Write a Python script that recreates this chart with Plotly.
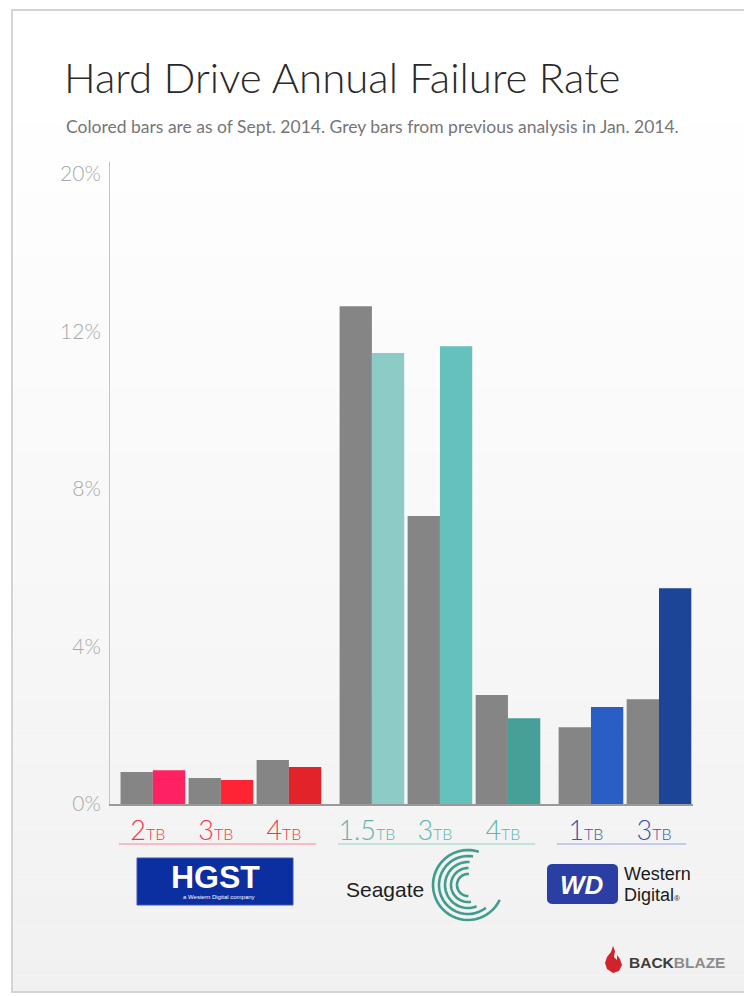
import math
import plotly.graph_objects as go

# ---------------- data ----------------
brands = ["HGST", "HGST", "HGST", "Seagate", "Seagate", "Seagate", "WD", "WD"]
capacities = ["2", "3", "4", "1.5", "3", "4", "1", "3"]
jan_2014 = [0.81, 0.66, 1.12, 12.64, 7.31, 2.77, 1.95, 2.66]   # grey bars
sep_2014 = [0.86, 0.61, 0.94, 11.45, 11.62, 2.18, 2.46, 5.48]  # coloured bars
y_tick_vals = [0, 4, 8, 12, 16]
y_tick_text = ["0%", "4%", "8%", "12%", "20%"]

# ---------------- styles ----------------
GREY = "#858585"
bar_colors = ["#ff2262", "#ff2434", "#e3232a",
              "#8dcbc6", "#64c1bc", "#47a097",
              "#2a5ec4", "#1d4597"]
brand_text = {"HGST": "#f2354c", "Seagate": "#5db4ab", "WD": "#3b56a6"}
brand_line = {"HGST": "#f7a9b2", "Seagate": "#b3dcd7", "WD": "#b4bde6"}
BRAND_GAP = 0.22

brand_order = []
for b in brands:
    if b not in brand_order:
        brand_order.append(b)
xpos = [i + BRAND_GAP * brand_order.index(b) for i, b in enumerate(brands)]

W, H = 744, 996
L, R, T, B = 110, 693, 162, 804


def px(x):
    return (x - L) / (R - L)


def py(y):
    return (B - y) / (B - T)


fig = go.Figure()
fig.add_trace(go.Bar(x=xpos, y=jan_2014, marker=dict(color=GREY, line=dict(width=0)),
                     name="Jan 2014", hoverinfo="skip"))
fig.add_trace(go.Bar(x=xpos, y=sep_2014, marker=dict(color=bar_colors, line=dict(width=0)),
                     name="Sept 2014", hoverinfo="skip"))

shapes = []
# background gradient bands
n = 60
top_y, bot_y = 11, 992
for k in range(n):
    y0 = top_y + (bot_y - top_y) * k / n
    y1 = top_y + (bot_y - top_y) * (k + 1) / n
    t = max(0.0, ((y0 + y1) / 2 - 100) / (bot_y - 100))
    v = int(round(255 - t * 14))
    shapes.append(dict(type="rect", xref="paper", yref="paper", layer="below",
                       x0=px(13), x1=px(760), y0=py(y1), y1=py(y0),
                       fillcolor=f"rgb({v},{v},{v})", line=dict(width=0)))
# card frame
shapes.append(dict(type="rect", xref="paper", yref="paper", layer="below",
                   x0=px(12), x1=px(770), y0=py(992), y1=py(10),
                   fillcolor="rgba(0,0,0,0)", line=dict(color="#d4d4d4", width=2)))

# brand underlines
for b in brand_order:
    xs = [x for x, bb in zip(xpos, brands) if bb == b]
    shapes.append(dict(type="line", xref="x", yref="paper",
                       x0=min(xs) - 0.5, x1=max(xs) + 0.4, y0=py(844), y1=py(844),
                       line=dict(color=brand_line[b], width=1.5)))

# HGST logo box
shapes.append(dict(type="rect", xref="paper", yref="paper",
                   x0=px(137), x1=px(293), y0=py(905), y1=py(858),
                   fillcolor="#0b2ea0", line=dict(color="#3a55b5", width=1)))


def rounded_rect(x0, y0, x1, y1, r):
    pts = []
    corners = [(x1 - r, y0 + r, 90, 0), (x1 - r, y1 - r, 0, -90),
               (x0 + r, y1 - r, -90, -180), (x0 + r, y0 + r, 180, 90)]
    for cx_, cy_, a0, a1 in corners:
        for s in range(7):
            a = math.radians(a0 + (a1 - a0) * s / 6)
            pts.append((cx_ + r * math.cos(a), cy_ - r * math.sin(a)))
    return "M " + " L ".join(f"{px(x):.5f},{py(y):.5f}" for x, y in pts) + " Z"


# WD logo box (rounded)
shapes.append(dict(type="path", xref="paper", yref="paper",
                   path=rounded_rect(547, 864, 618, 904, 5),
                   fillcolor="#2b3ea3", line=dict(width=0)))

# Seagate arcs
cx, cy = 468, 885
arcs = [(35, 72, 335), (29, 80, 308), (23, 86, 292), (17, 88, 280), (11, 85, 272)]
for r, a0, a1 in arcs:
    pts = []
    steps = 40
    for s in range(steps + 1):
        a = math.radians(a0 + (a1 - a0) * s / steps)
        pts.append((cx + r * math.cos(a), cy - r * math.sin(a)))
    path = "M " + " L ".join(f"{px(x):.5f},{py(y):.5f}" for x, y in pts)
    shapes.append(dict(type="path", xref="paper", yref="paper", path=path,
                       line=dict(color="#3f9c8e", width=2.6)))

# Backblaze flame
flame = [(613, 946), (611, 952), (607, 957), (605, 963), (607, 969), (613, 973),
         (619, 971), (622, 965), (620, 959), (617, 955), (617, 960), (614, 957),
         (615, 951)]
shapes.append(dict(type="path", xref="paper", yref="paper",
                   path="M " + " L ".join(f"{px(x):.5f},{py(y):.5f}" for x, y in flame) + " Z",
                   fillcolor="#d2232a", line=dict(width=0)))

annotations = []


def ann(text, x, y, size, color, family="Lato", xanchor="left", weight=None, yanchor="middle"):
    f = dict(size=size, color=color, family=family)
    if weight is not None:
        f["weight"] = weight
    annotations.append(dict(text=text, x=px(x), y=py(y), xref="paper", yref="paper",
                            xanchor=xanchor, yanchor=yanchor, showarrow=False, font=f))


ann("Hard Drive Annual Failure Rate", 62, 77, 42, "#2a2a2a", weight=300)
ann("Colored bars are as of Sept. 2014. Grey bars from previous analysis in Jan. 2014.",
    64, 126, 17.5, "#767676")
ann("<b>HGST</b>", 215, 877, 32, "#ffffff", family="Liberation Sans", xanchor="center")
ann("a Western Digital company", 219, 897, 6, "#ffffff", family="Liberation Sans", xanchor="center")
ann("Seagate", 344, 890, 21, "#1e1e1e", family="Liberation Sans")
ann("<b><i>WD</i></b>", 582, 885, 26, "#ffffff", family="Liberation Sans", xanchor="center")
ann("Western", 622, 874, 18, "#1a1a1a", family="Liberation Sans")
ann("Digital<span style='font-size:8px'>®</span>", 622, 895, 18, "#1a1a1a", family="Liberation Sans")
ann("<b><span style='color:#3c3c3c'>BACK</span><span style='color:#8c8c8c'>BLAZE</span></b>",
    627, 962, 15.5, "#3c3c3c", family="Liberation Sans")

tick_text = [f"<span style='color:{brand_text[b]}'>{c}<span style='font-size:16px'>TB</span></span>"
             for b, c in zip(brands, capacities)]

fig.update_layout(
    width=W, height=H, autosize=False,
    margin=dict(l=L, r=W - R, t=T, b=H - B, pad=0),
    paper_bgcolor="#ffffff", plot_bgcolor="rgba(0,0,0,0)",
    barmode="group", bargap=0.05, bargroupgap=0,
    showlegend=False,
    shapes=shapes, annotations=annotations,
    xaxis=dict(range=[-0.63, 7.94], tickvals=xpos, ticktext=tick_text,
               tickfont=dict(family="Lato", size=27, weight=300),
               showline=True, linecolor="#9a9a9a", linewidth=2,
               showgrid=False, zeroline=False, ticks="", ticklabelshift=-5,
               ticklabelstandoff=2, fixedrange=True),
    yaxis=dict(range=[0, 16.3], tickvals=y_tick_vals, ticktext=y_tick_text,
               tickfont=dict(family="Lato", size=21, color="#a9a9a9", weight=300),
               showline=True, linecolor="#c4c4c4", linewidth=1,
               showgrid=False, zeroline=False, ticks="", ticklabelstandoff=4,
               fixedrange=True),
)

fig.write_html("out.html")
